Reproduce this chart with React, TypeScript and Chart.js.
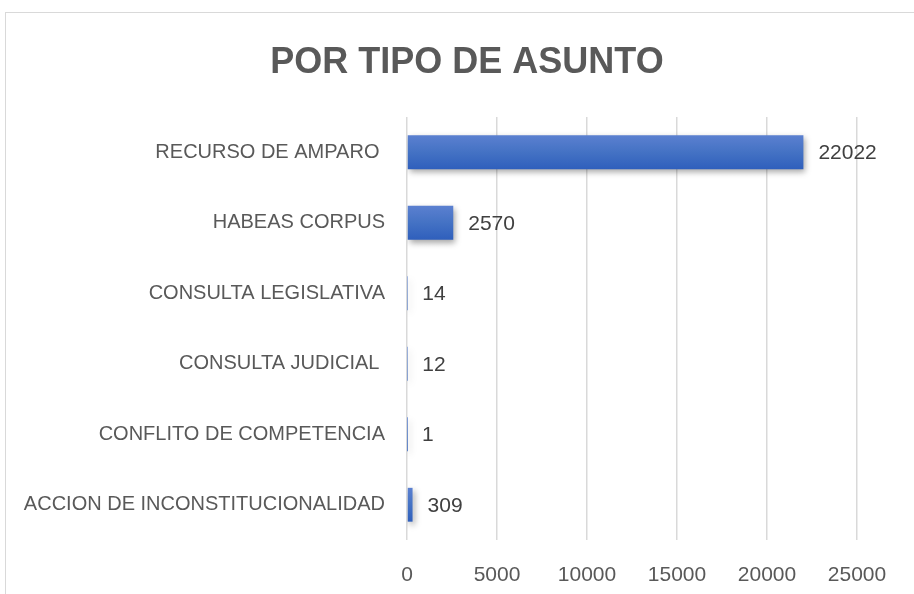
import React, { useEffect, useRef } from "react";
import { Chart, registerables } from "chart.js";

Chart.register(...registerables);

const TITLE = "POR TIPO DE ASUNTO";
const categories = [
  "RECURSO DE AMPARO ",
  "HABEAS CORPUS",
  "CONSULTA LEGISLATIVA",
  "CONSULTA JUDICIAL ",
  "CONFLITO DE COMPETENCIA",
  "ACCION DE INCONSTITUCIONALIDAD",
];
const values = [22022, 2570, 14, 12, 1, 309];
const xMin = 0;
const xMax = 25000;
const xStep = 5000;

const FONT = "'Liberation Sans', Arial, sans-serif";

export default function App() {
  const ref = useRef<HTMLCanvasElement | null>(null);

  useEffect(() => {
    const canvas = ref.current;
    if (!canvas) return;

    const bgPlugin = {
      id: "bgBorder",
      beforeDraw(chart: any) {
        const ctx = chart.ctx;
        ctx.save();
        ctx.fillStyle = "#ffffff";
        ctx.fillRect(0, 0, chart.width, chart.height);
        ctx.strokeStyle = "#d9d9d9";
        ctx.lineWidth = 1;
        ctx.strokeRect(5.5, 12.5, chart.width + 20, chart.height + 20);
        ctx.fillStyle = "#595959";
        ctx.font = `bold 36px ${FONT}`;
        ctx.textAlign = "center";
        ctx.textBaseline = "alphabetic";
        ctx.fillText(TITLE, 467, 73);
        ctx.restore();
      },
    };

    const shadowPlugin = {
      id: "barShadow",
      beforeDatasetsDraw(chart: any) {
        const ctx = chart.ctx;
        ctx.save();
        ctx.shadowColor = "rgba(0,0,0,0.35)";
        ctx.shadowBlur = 6;
        ctx.shadowOffsetX = 2;
        ctx.shadowOffsetY = 3;
      },
      afterDatasetsDraw(chart: any) {
        chart.ctx.restore();
      },
    };

    const labelPlugin = {
      id: "valueLabels",
      afterDatasetsDraw(chart: any) {
        const ctx = chart.ctx;
        const meta = chart.getDatasetMeta(0);
        ctx.save();
        ctx.shadowColor = "transparent";
        ctx.font = `21px ${FONT}`;
        ctx.fillStyle = "#404040";
        ctx.textAlign = "left";
        ctx.textBaseline = "middle";
        meta.data.forEach((bar: any, i: number) => {
          ctx.fillText(String(values[i]), bar.x + 15, bar.y + 1);
        });
        ctx.restore();
      },
    };

    const chart = new Chart(canvas, {
      type: "bar",
      data: {
        labels: categories,
        datasets: [
          {
            data: values,
            backgroundColor: (c: any) => {
              const ch = c.chart;
              const ys = ch.scales && ch.scales.y;
              if (!ys || c.dataIndex === undefined) return "#4472c4";
              const center = ys.getPixelForValue(c.dataIndex);
              const p0 = ys.getPixelForValue(0);
              const p1 = ys.getPixelForValue(1);
              if (!isFinite(center) || !isFinite(p0) || !isFinite(p1)) return "#4472c4";
              const band = Math.abs(p1 - p0);
              const half = (band * 0.48) / 2;
              if (!(half > 0)) return "#4472c4";
              const g = ch.ctx.createLinearGradient(0, center - half, 0, center + half);
              g.addColorStop(0, "#5b80d0");
              g.addColorStop(0.5, "#4472c4");
              g.addColorStop(1, "#2f5fbc");
              return g;
            },
            borderWidth: 0,
            categoryPercentage: 1,
            barPercentage: 0.48,
          },
        ],
      },
      options: {
        indexAxis: "y",
        responsive: false,
        animation: false,
        layout: { padding: { left: 0, right: 57, top: 117, bottom: 0 } },
        plugins: {
          legend: { display: false },
          tooltip: { enabled: false },
          title: { display: false },
        },
        scales: {
          x: {
            min: xMin,
            max: xMax,
            ticks: {
              stepSize: xStep,
              color: "#595959",
              font: { family: FONT, size: 21 },
              padding: 23,
              callback: (v: any) => String(v),
            },
            grid: { color: "#d9d9d9", lineWidth: 1.5, drawTicks: false },
            border: { display: false },
            afterFit(axis: any) {
              axis.height = 54;
            },
          },
          y: {
            ticks: {
              color: "#595959",
              font: { family: FONT, size: 20 },
              padding: 22,
            },
            grid: { display: false, drawTicks: false },
            border: { display: false },
            afterFit(axis: any) {
              axis.width = 407;
            },
          },
        },
      },
      plugins: [bgPlugin, shadowPlugin, labelPlugin],
    } as any);

    return () => chart.destroy();
  }, []);

  return (
    <div style={{ position: "fixed", left: 0, top: 0, width: 914, height: 594 }}>
      <canvas ref={ref} width={914} height={594} style={{ width: 914, height: 594 }} />
    </div>
  );
}
